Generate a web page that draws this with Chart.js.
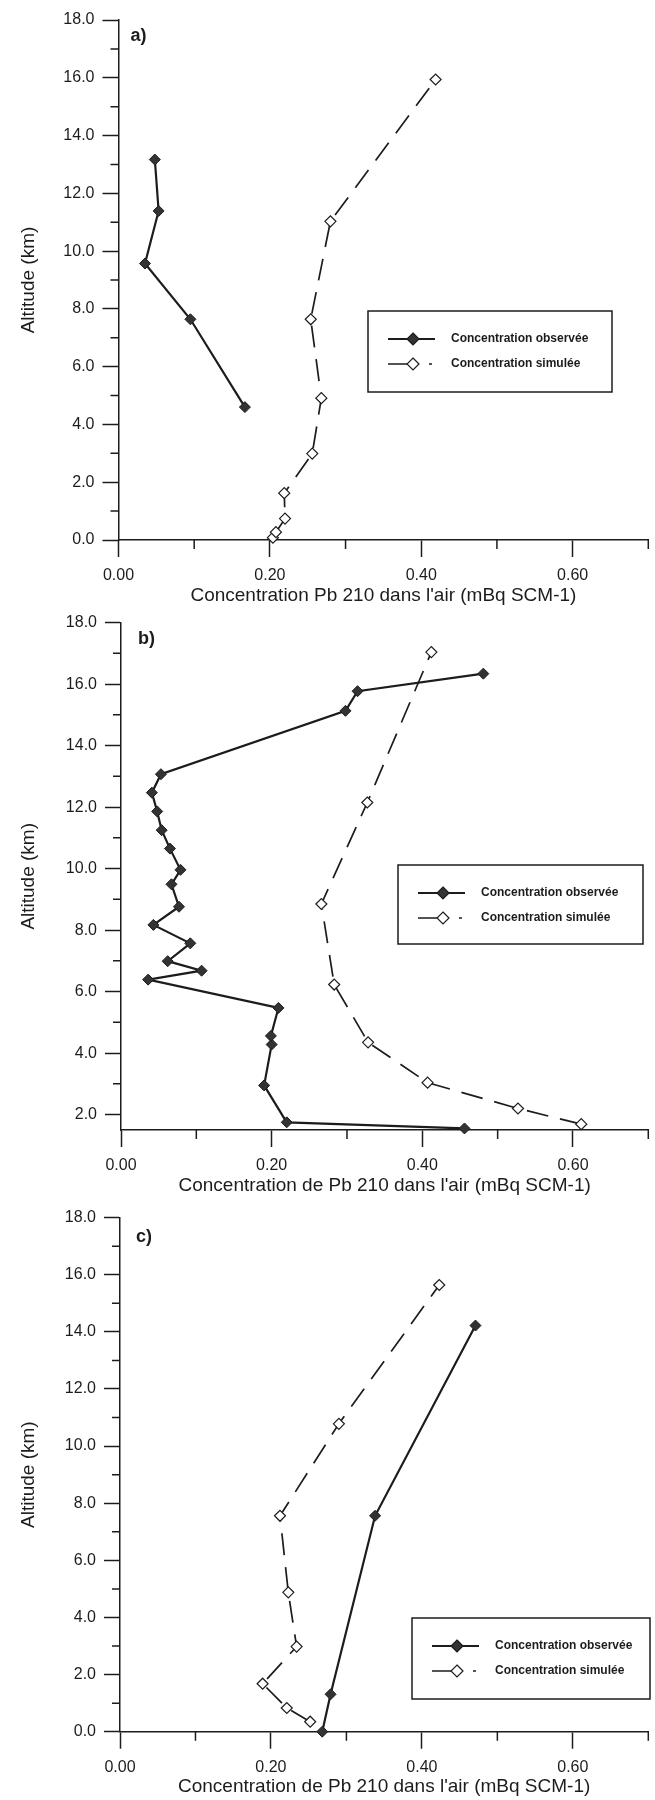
<!DOCTYPE html>
<html lang="fr">
<head>
<meta charset="utf-8">
<title>Concentration Pb 210</title>
<script src="https://cdn.jsdelivr.net/npm/chart.js@4.4.1/dist/chart.umd.min.js"></script>
<style>
  html, body { margin: 0; padding: 0; background: #fff; }
  body { width: 655px; height: 1800px; position: relative; overflow: hidden; }
  canvas { position: absolute; left: 0; }
</style>
</head>
<body>
<canvas id="chartA" width="655" height="620" style="top:0px"></canvas>
<canvas id="chartB" width="655" height="600" style="top:605px"></canvas>
<canvas id="chartC" width="655" height="600" style="top:1200px"></canvas>
<script>
// axis ticks
const altTicks = [0, 2, 4, 6, 8, 10, 12, 14, 16, 18];
const altMinor = [1, 3, 5, 7, 9, 11, 13, 15, 17];
const concTicks = [0, 0.2, 0.4, 0.6];
const concMinor = [0.1, 0.3, 0.5, 0.7];

const legendLabels = ["Concentration observée", "Concentration simulée"];
const yTitle = "Altitude (km)";
const xTitleA = "Concentration Pb 210 dans l'air (mBq SCM-1)";
const xTitleBC = "Concentration de Pb 210 dans l'air (mBq SCM-1)";

// a) -- values
const obsA_x = [0.167, 0.095, 0.035, 0.053, 0.048];
const obsA_y = [4.60, 7.64, 9.57, 11.39, 13.17];
const simA_x = [0.204, 0.208, 0.220, 0.219, 0.256, 0.268, 0.254, 0.280, 0.419];
const simA_y = [0.08, 0.27, 0.74, 1.62, 2.99, 4.91, 7.64, 11.03, 15.94];

// b)
const obsB_x = [0.456, 0.220, 0.190, 0.200, 0.199, 0.209, 0.036, 0.107, 0.062, 0.092, 0.043,
                0.077, 0.067, 0.079, 0.065, 0.054, 0.048, 0.041, 0.053, 0.298, 0.314, 0.481];
const obsB_y = [1.55, 1.75, 2.95, 4.28, 4.56, 5.47, 6.39, 6.68, 6.99, 7.57, 8.17,
                8.76, 9.49, 9.96, 10.65, 11.25, 11.86, 12.47, 13.07, 15.13, 15.77, 16.34];
const simB_x = [0.611, 0.527, 0.407, 0.328, 0.283, 0.266, 0.327, 0.412];
const simB_y = [1.69, 2.20, 3.04, 4.35, 6.23, 8.85, 12.15, 17.04];

// c)
const obsC_x = [0.268, 0.279, 0.338, 0.471];
const obsC_y = [0.0, 1.31, 7.56, 14.22];
const simC_x = [0.252, 0.221, 0.189, 0.234, 0.223, 0.212, 0.290, 0.423];
const simC_y = [0.35, 0.83, 1.68, 2.98, 4.88, 7.56, 10.78, 15.64];

const ink = "#1c1c1c";
const fontFam = "'Liberation Sans', Arial, sans-serif";

function pts(xs, ys) {
    return xs.map((x, i) => ({x: x, y: ys[i]}));
}

function drawDiamond(ctx, x, y, r, filled) {
    ctx.beginPath();
    ctx.moveTo(x, y - r);
    ctx.lineTo(x + r, y);
    ctx.lineTo(x, y + r);
    ctx.lineTo(x - r, y);
    ctx.closePath();
    ctx.fillStyle = filled ? "#333" : "#fff";
    ctx.fill();
    ctx.stroke();
}

// minor tick marks, placed with the chart's own scales
const minorTicks = {
    id: "minorTicks",
    afterDraw(chart) {
        const {ctx, chartArea} = chart;
        const xs = chart.scales.x, ys = chart.scales.y;
        ctx.save();
        ctx.strokeStyle = ink;
        ctx.lineWidth = 1.5;
        ctx.beginPath();
        altMinor.forEach(v => {
            if (v < ys.min || v > ys.max) return;
            const py = ys.getPixelForValue(v);
            ctx.moveTo(chartArea.left - 8, py);
            ctx.lineTo(chartArea.left, py);
        });
        concMinor.forEach(v => {
            const px = xs.getPixelForValue(v);
            ctx.moveTo(px, chartArea.bottom);
            ctx.lineTo(px, chartArea.bottom + 9);
        });
        ctx.stroke();
        ctx.restore();
    }
};

// boxed legend + panel letter
const boxLegend = {
    id: "boxLegend",
    afterDraw(chart, args, opts) {
        const ctx = chart.ctx;
        const b = opts.box;
        ctx.save();
        ctx.strokeStyle = ink;
        ctx.lineWidth = 1.5;
        ctx.strokeRect(b.left, b.top, b.width, b.height);

        const r1 = b.top + 28, r2 = b.top + 53;
        ctx.lineWidth = 2;
        ctx.beginPath();
        ctx.moveTo(b.left + 20, r1); ctx.lineTo(b.left + 67, r1);
        ctx.stroke();
        ctx.lineWidth = 1.2;
        drawDiamond(ctx, b.left + 45, r1, 6, true);

        ctx.lineWidth = 1.5;
        ctx.beginPath();
        ctx.moveTo(b.left + 20, r2); ctx.lineTo(b.left + 39, r2);
        ctx.moveTo(b.left + 61, r2); ctx.lineTo(b.left + 64, r2);
        ctx.stroke();
        ctx.lineWidth = 1.2;
        drawDiamond(ctx, b.left + 45, r2, 6, false);

        ctx.fillStyle = ink;
        ctx.font = "bold 12px " + fontFam;
        ctx.textBaseline = "middle";
        ctx.textAlign = "left";
        ctx.fillText(legendLabels[0], b.left + 83, r1);
        ctx.fillText(legendLabels[1], b.left + 83, r2);

        // panel letter
        const ca = chart.chartArea;
        ctx.font = "bold 18px " + fontFam;
        ctx.fillText(opts.letter, ca.left + opts.letterDx, ca.top + opts.letterDy);
        ctx.restore();
    }
};

function makePanel(id, cfg) {
    const ctx = document.getElementById(id).getContext("2d");
    return new Chart(ctx, {
        type: "scatter",
        data: {
            datasets: [
                {
                    label: legendLabels[1],
                    data: pts(cfg.simX, cfg.simY),
                    showLine: true,
                    borderColor: ink,
                    borderWidth: 1.7,
                    borderDash: [22, 12],
                    pointStyle: "rectRot",
                    pointRadius: 5.5,
                    pointBorderWidth: 1.2,
                    pointBackgroundColor: "#fff",
                    pointBorderColor: ink,
                    clip: false
                },
                {
                    label: legendLabels[0],
                    data: pts(cfg.obsX, cfg.obsY),
                    showLine: true,
                    borderColor: ink,
                    borderWidth: 2.2,
                    pointStyle: "rectRot",
                    pointRadius: 5.5,
                    pointBorderWidth: 1,
                    pointBackgroundColor: "#333",
                    pointBorderColor: ink,
                    clip: false
                }
            ]
        },
        options: {
            responsive: false,
            animation: false,
            devicePixelRatio: 1,
            layout: { padding: { top: cfg.padTop, right: cfg.padRight, left: 0, bottom: 0 } },
            scales: {
                x: {
                    type: "linear",
                    min: 0, max: 0.7,
                    afterFit: s => { s.height = cfg.xHeight; },
                    afterBuildTicks: s => { s.ticks = concTicks.map(v => ({value: v})); },
                    border: { display: true, color: ink, width: 1.5 },
                    grid: { drawOnChartArea: false, drawTicks: true, tickLength: 17, tickColor: ink, tickWidth: 1.5 },
                    ticks: {
                        padding: 9,
                        maxRotation: 0,
                        color: ink,
                        font: { family: fontFam, size: 16 },
                        callback: v => Number(v).toFixed(2)
                    },
                    title: {
                        display: true,
                        text: cfg.xTitle,
                        color: ink,
                        font: { family: fontFam, size: 19 },
                        padding: { top: 0, bottom: cfg.titlePad }
                    }
                },
                y: {
                    type: "linear",
                    min: cfg.yMin, max: 18,
                    afterFit: s => { s.width = cfg.left; },
                    afterBuildTicks: s => { s.ticks = altTicks.filter(v => v >= cfg.yMin).map(v => ({value: v})); },
                    border: { display: true, color: ink, width: 1.5 },
                    grid: { drawOnChartArea: false, drawTicks: true, tickLength: 16, tickColor: ink, tickWidth: 1.5 },
                    ticks: {
                        padding: 8,
                        color: ink,
                        font: { family: fontFam, size: 16 },
                        callback: v => Number(v).toFixed(1)
                    },
                    title: {
                        display: true,
                        text: yTitle,
                        color: ink,
                        font: { family: fontFam, size: 19 },
                        padding: { top: 17, bottom: 0 }
                    }
                }
            },
            plugins: {
                legend: { display: false },
                tooltip: { enabled: false },
                boxLegend: { box: cfg.legendBox, letter: cfg.letter, letterDx: cfg.letterDx, letterDy: cfg.letterDy }
            }
        },
        plugins: [minorTicks, boxLegend]
    });
}

makePanel("chartA", {
    obsX: obsA_x, obsY: obsA_y, simX: simA_x, simY: simA_y,
    yMin: 0, left: 118.5, padTop: 20, padRight: 3.5, xHeight: 80, titlePad: 12.6,
    xTitle: xTitleA, letter: "a)", letterDx: 12, letterDy: 16,
    legendBox: { left: 368, top: 311, width: 244, height: 81 }
});

makePanel("chartB", {
    obsX: obsB_x, obsY: obsB_y, simX: simB_x, simY: simB_y,
    yMin: 1.5, left: 121, padTop: 10, padRight: 1, xHeight: 75, titlePad: 7.6,
    xTitle: xTitleBC, letter: "b)", letterDx: 17, letterDy: 16,
    legendBox: { left: 398, top: 260, width: 245, height: 79 }
});

makePanel("chartC", {
    obsX: obsC_x, obsY: obsC_y, simX: simC_x, simY: simC_y,
    yMin: 0, left: 120, padTop: 11, padRight: 2, xHeight: 68.3, titlePad: 1.6,
    xTitle: xTitleBC, letter: "c)", letterDx: 16, letterDy: 19,
    legendBox: { left: 412, top: 418, width: 238, height: 81 }
});
</script>
</body>
</html>
